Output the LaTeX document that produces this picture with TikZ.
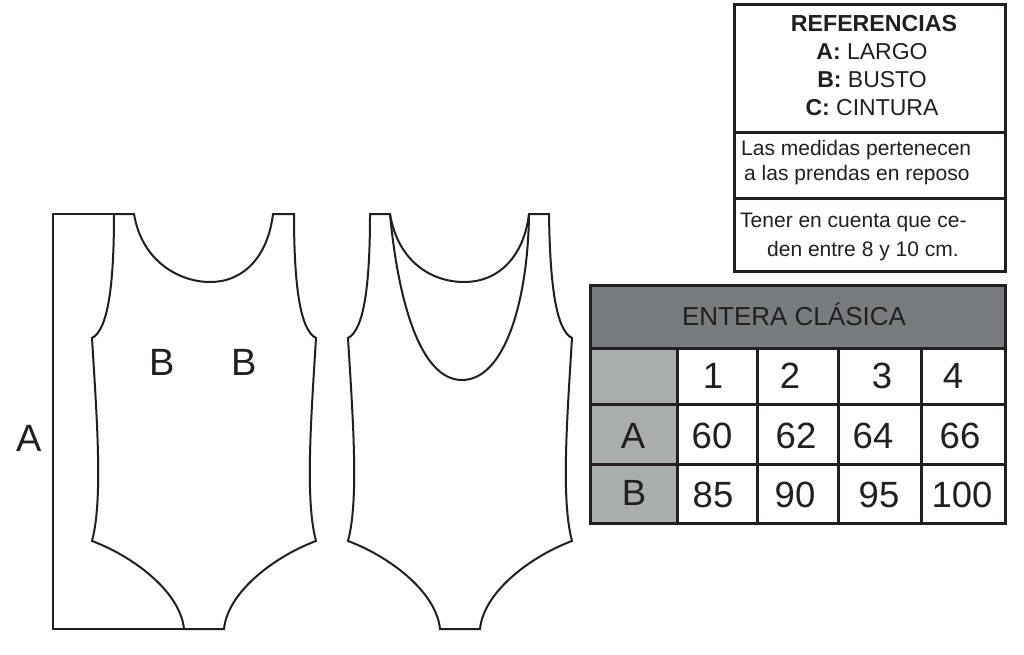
\documentclass[tikz,border=0pt]{standalone}
\usepackage{fontspec}
\setmainfont{Liberation Sans}
\definecolor{inkdark}{HTML}{231F20}
\definecolor{headgray}{HTML}{797C7E}
\definecolor{sidegray}{HTML}{A9ADAC}
\tikzset{
  garment/.style={line width=2pt,draw=inkdark,line join=miter},
  frameline/.style={line width=3pt,draw=inkdark},
  bodytext/.style={anchor=base,inner sep=0pt,text=inkdark,font=\fontsize{21}{21}\selectfont},
  leftnote/.style={bodytext,anchor=base west},
  bigtext/.style={anchor=base,inner sep=0pt,text=inkdark,font=\fontsize{36.5}{36.5}\selectfont},
  marktext/.style={bigtext,font=\fontsize{38}{38}\selectfont},
}
\begin{document}
\begin{tikzpicture}[x=1pt,y=-1pt]
\useasboundingbox (0,0) rectangle (1024,654);
\fill[white] (0,0) rectangle (1024,654);
% front
\draw[garment] (134,214) -- (114,214) .. controls (114,285) and (108,330) .. (92,338)
  .. controls (97,420) and (103,500) .. (92,541)
  .. controls (130,555) and (180,590) .. (184,629) -- (224,629)
  .. controls (228,590) and (278,555) .. (316,541)
  .. controls (305,500) and (311,420) .. (316,338)
  .. controls (300,330) and (294,285) .. (294,214) -- (273,214)
  .. controls (268,255) and (245,282) .. (210,282)
  .. controls (180,282) and (142,262) .. (134,214) -- cycle;
% measure line
\draw[line width=2.8pt,draw=inkdark,line join=miter] (114,214) -- (53,214) -- (53,629) -- (184,629);
% back
\draw[garment] (390,214) -- (370,214) .. controls (370,285) and (364,330) .. (348,338)
  .. controls (353,420) and (359,500) .. (348,541)
  .. controls (386,555) and (436,590) .. (440,629) -- (480,629)
  .. controls (484,590) and (534,555) .. (572,541)
  .. controls (561,500) and (567,420) .. (572,338)
  .. controls (556,330) and (550,285) .. (549,214) -- (529,214)
  .. controls (524,255) and (500,282) .. (464,282)
  .. controls (432,282) and (398,262) .. (390,214) -- cycle;
\draw[garment] (390,214) .. controls (398,300) and (420,380) .. (462,380)
  .. controls (505,380) and (528,300) .. (529,214);
\node[marktext] (markA) at (29,451) {A};
\node[marktext] (markB1) at (162,375) {B};
\node[marktext] (markB2) at (244,375) {B};
% references box
\draw[frameline] (734,4) rectangle (1005,271);
\draw[frameline] (734,132) -- (1005,132);
\draw[frameline] (734,198) -- (1005,198);
\node[bodytext,font=\fontsize{23.2}{23.2}\selectfont\bfseries] (refTitle) at (874,31) {REFERENCIAS};
\node[bodytext,font=\fontsize{23}{23}\selectfont] (refA) at (872,59) {\textbf{A:} LARGO};
\node[bodytext,font=\fontsize{23}{23}\selectfont] (refB) at (872,87) {\textbf{B:} BUSTO};
\node[bodytext,font=\fontsize{23}{23}\selectfont] (refC) at (872,115) {\textbf{C:} CINTURA};
\node[leftnote] (noteA) at (741,155) {Las medidas pertenecen};
\node[leftnote] (noteB) at (744,180) {a las prendas en reposo};
\node[leftnote] (noteC) at (740,227) {Tener en cuenta que ce-};
\node[leftnote] (noteD) at (767,256) {den entre 8 y 10 cm.};
% size table
\fill[headgray] (590,285) rectangle (1005,348);
\fill[sidegray] (590,348) rectangle (677,523);
\draw[frameline] (590,285) rectangle (1005,523);
\draw[frameline] (590,348) -- (1005,348);
\draw[frameline] (590,404) -- (1005,404);
\draw[frameline] (590,464) -- (1005,464);
\draw[frameline] (677,348) -- (677,523);
\draw[frameline] (757,348) -- (757,523);
\draw[frameline] (838,348) -- (838,523);
\draw[frameline] (921,348) -- (921,523);
\node[bodytext,font=\fontsize{26}{26}\selectfont] (tableTitle) at (794,325) {ENTERA CLÁSICA};
\node[bigtext] (size1) at (713,388) {1};
\node[bigtext] (size2) at (790,388) {2};
\node[bigtext] (size3) at (882,388) {3};
\node[bigtext] (size4) at (953,388) {4};
\node[bigtext] (rowA) at (633,448) {A};
\node[bigtext] (a1) at (712,448) {60};
\node[bigtext] (a2) at (796,448) {62};
\node[bigtext] (a3) at (873,448) {64};
\node[bigtext] (a4) at (960,448) {66};
\node[bigtext] (rowB) at (634,505) {B};
\node[bigtext] (b1) at (713,507) {85};
\node[bigtext] (b2) at (795,507) {90};
\node[bigtext] (b3) at (879,507) {95};
\node[bigtext] (b4) at (962,507) {100};
\end{tikzpicture}
\end{document}
